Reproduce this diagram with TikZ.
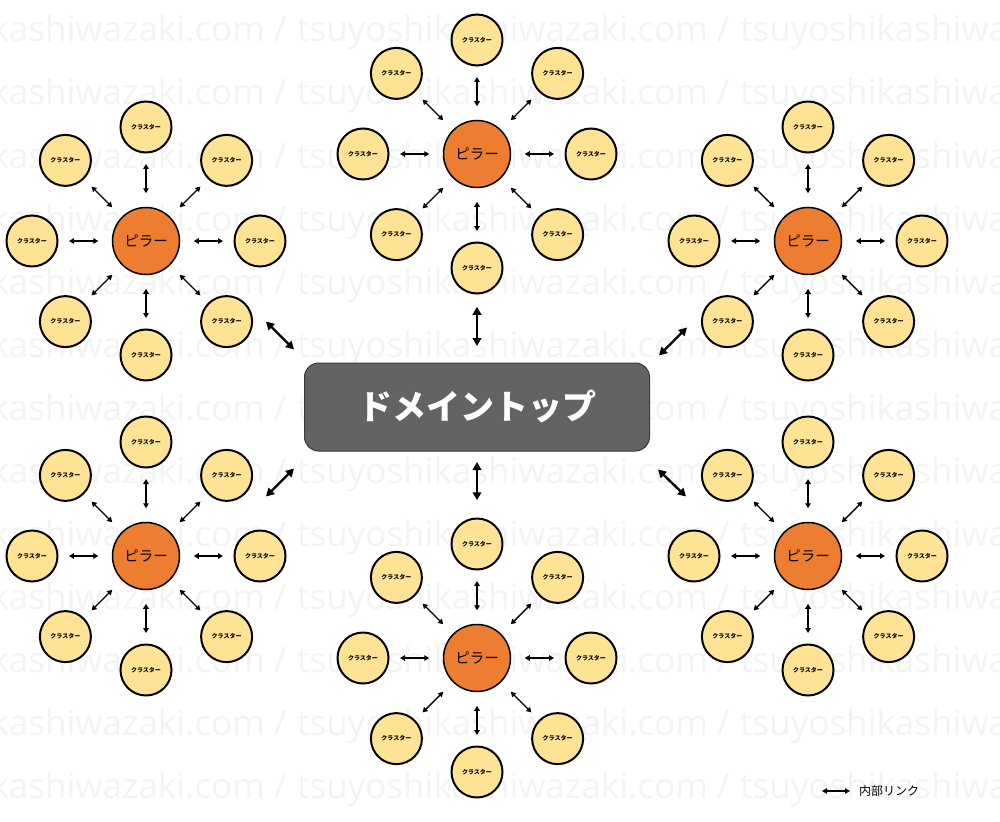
\documentclass[tikz,border=0pt]{standalone}
\usepackage{fontspec}
\setmainfont{Noto Sans CJK JP}
\newfontfamily\wmfont{Open Sans}
\usetikzlibrary{arrows.meta,calc}
\definecolor{clusterfill}{HTML}{FFE394}
\definecolor{pillarfill}{HTML}{ED7D31}
\definecolor{mainfill}{HTML}{636363}
\definecolor{mainedge}{HTML}{3A3A3A}
\definecolor{wmcol}{HTML}{F3F3F3}
\begin{document}
\begin{tikzpicture}[x=1pt,y=-1pt,
 cluster/.style={circle,draw=black,line width=2pt,fill=clusterfill,minimum size=51pt,inner sep=0pt,font=\fontsize{6}{6}\selectfont\bfseries},
 pillar/.style={circle,draw=black,line width=1.5pt,fill=pillarfill,minimum size=67pt,inner sep=0pt,font=\fontsize{14.5}{15}\selectfont},
 link/.style={{Triangle[length=5pt,width=5.5pt]}-{Triangle[length=5pt,width=5.5pt]},line width=1.4pt},
 biglink/.style={{Triangle[length=8pt,width=8.5pt]}-{Triangle[length=8pt,width=8.5pt]},line width=2.4pt},
 wmtext/.style={anchor=base west,inner sep=0pt,text=wmcol,font=\wmfont\fontsize{35}{35}\selectfont},
 mainbox/.style={draw=mainedge,fill=mainfill,rounded corners=14pt,line width=1pt,minimum width=345pt,minimum height=88pt,text=white,font=\fontsize{34}{34}\selectfont\bfseries}]
\useasboundingbox (0,0) rectangle (1000,821);
\fill[white] (0,0) rectangle (1000,821);
\begin{scope}
\clip (0,0) rectangle (1000,821);
\foreach \r in {0,...,12}{
 \foreach \c in {-1,...,2}{
  \node[wmtext] (wm-\r-\c) at ({297+443*\c},{42+63*\r}) {tsuyoshikashiwazaki.com /};
 }
}
\end{scope}
\foreach \n/\px/\py in {1/146/241, 2/146/556, 3/477/154, 4/477/658, 5/808/241, 6/808/556}{
 \node[pillar] (P\n) at (\px,\py) {ピラー};
 \foreach \a in {0,45,...,315}{
   \node[cluster] (P\n-\a) at ($(P\n)+(\a:114)$) {クラスター};
   \draw[link,shorten <=13.5pt,shorten >=10.5pt] (P\n) -- (P\n-\a);
 }
}
\node[mainbox] (main) at (477,407) {ドメイントップ};
\draw[biglink,shorten <=16.5pt,shorten >=118.5pt] (main) -- (P3);
\draw[biglink,shorten <=10.5pt,shorten >=123.5pt] (main) -- (P4);
\draw[biglink] ([shift={(-10,-13)}]main.north west) -- ([shift={(-38,-41)}]main.north west);
\draw[biglink] ([shift={(9,-7)}]main.north east) -- ([shift={(37,-35)}]main.north east);
\draw[biglink] ([shift={(-10,17)}]main.south west) -- ([shift={(-38,45)}]main.south west);
\draw[biglink] ([shift={(8,18)}]main.south east) -- ([shift={(36,45)}]main.south east);
\coordinate (legA) at (822,791);
\node[anchor=west,inner sep=0pt,font=\fontsize{12}{12}\selectfont] (leg) at (859,791) {内部リンク};
\draw[link] (legA) -- ([xshift=-9pt]leg.west);
\end{tikzpicture}
\end{document}
